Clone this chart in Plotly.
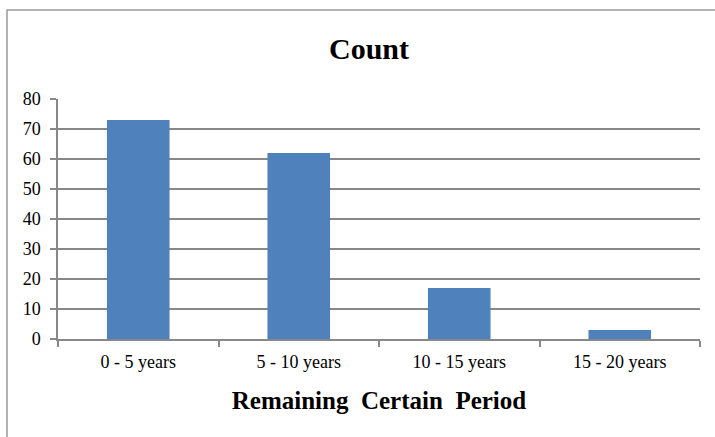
import plotly.graph_objects as go

categories = ["0 - 5 years", "5 - 10 years", "10 - 15 years", "15 - 20 years"]
counts = [73, 62, 17, 3]
y_ticks = [0, 10, 20, 30, 40, 50, 60, 70, 80]

FONT = "Liberation Serif, Times New Roman, serif"
L, R, T, B = 58, 15, 99, 98
W, H = 715, 437
pw = W - L - R
ph = H - T - B

fig = go.Figure(go.Bar(x=categories, y=counts, marker=dict(color="#4F81BD", line=dict(width=0)), width=0.39))

fig.update_layout(
    width=W, height=H,
    margin=dict(l=L, r=R, t=T, b=B, autoexpand=False),
    paper_bgcolor="white", plot_bgcolor="white",
    font=dict(family=FONT, color="black", size=18),
    title=dict(text="<b>Count</b>", xref="paper", x=(369 - L) / pw, xanchor="center",
               yref="container", y=1 - 48 / H, yanchor="middle",
               font=dict(family=FONT, size=30, color="black")),
    showlegend=False,
    bargap=0.6,
)
fig.update_xaxes(
    automargin=False,
    showline=True, linecolor="#888888", linewidth=1.5,
    ticks="outside", tickson="boundaries", ticklen=6, tickcolor="#888888", tickwidth=1.5,
    showgrid=False,
    ticklabelstandoff=6,
    tickfont=dict(family=FONT, size=18, color="black"),
    title=dict(text="<b>Remaining  Certain  Period</b>", font=dict(family=FONT, size=25, color="black"), standoff=20),
)
fig.update_yaxes(
    automargin=False,
    range=[0, 80], tickvals=y_ticks,
    showline=True, linecolor="#888888", linewidth=1.5,
    ticks="outside", ticklen=6, tickcolor="#888888", tickwidth=1.5,
    showgrid=True, gridcolor="#888888", gridwidth=1.5,
    zeroline=False,
    ticklabelstandoff=6,
    tickfont=dict(family=FONT, size=18, color="black"),
)

# outer chart frame
x0 = (7 - L) / pw
y1 = (H - B - 10) / ph
fig.add_shape(type="rect", xref="paper", yref="paper", x0=x0, y0=-0.6, x1=1.2, y1=y1,
              line=dict(color="#999999", width=1.5), fillcolor="rgba(0,0,0,0)", layer="below")

fig.write_html("out.html", config={"displayModeBar": False},
               post_script="document.body.style.margin='0';document.body.style.overflow='hidden';")
